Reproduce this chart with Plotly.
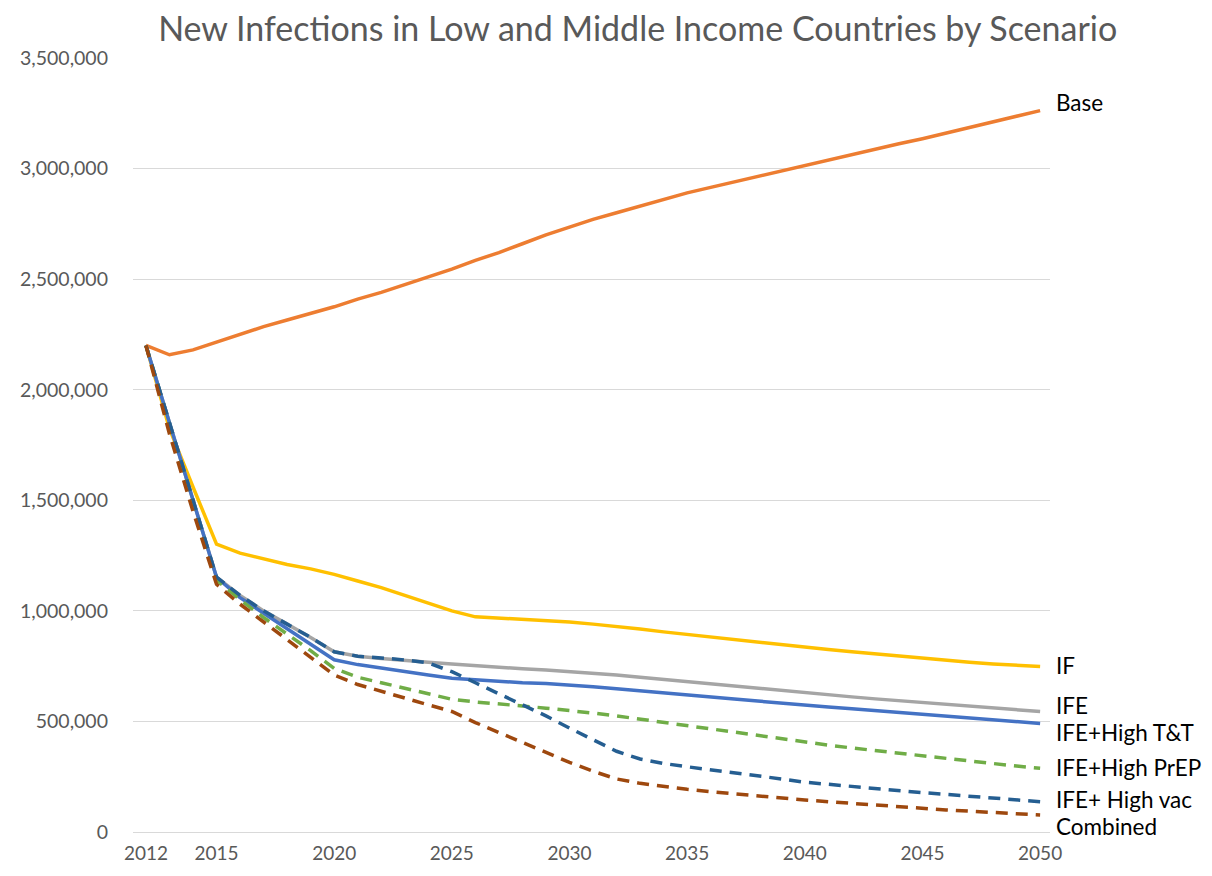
import plotly.graph_objects as go

years = list(range(2012, 2051))

base = [2200000, 2158000, 2180000, 2215000, 2250000, 2285000, 2315000, 2345000, 2375000,
        2410000, 2440000, 2475000, 2510000, 2545000, 2585000, 2620000, 2660000, 2700000,
        2735000, 2770000, 2800000, 2830000, 2860000, 2890000, 2915000, 2940000, 2965000,
        2990000, 3015000, 3040000, 3065000, 3090000, 3112000, 3135000, 3160000, 3185000,
        3210000, 3235000, 3262000]

if_ = [2200000, 1824000, 1560000, 1302000, 1261000, 1235000, 1210000, 1190000, 1165000,
       1135000, 1105000, 1070000, 1035000, 1000000, 973000, 967000, 962000, 958000,
       950000, 940000, 930000, 918000, 905000, 893000, 882000, 870000, 858000, 847000,
       835000, 825000, 815000, 805000, 795000, 785000, 776000, 768000, 760000, 754000, 748000]

ife = [2200000, 1850000, 1500000, 1152000, 1070000, 1000000, 940000, 880000, 815000,
       795000, 785000, 775000, 768000, 760000, 752000, 745000, 738000, 732000, 725000,
       718000, 710000, 700000, 690000, 678000, 668000, 658000, 648000, 638000, 628000,
       620000, 611000, 602000, 594000, 586000, 578000, 570000, 562000, 553000, 545000]

ife_tt = [2200000, 1850000, 1500000, 1152000, 1060000, 990000, 920000, 850000, 779000,
          757000, 740000, 725000, 710000, 695000, 688000, 680000, 675000, 671000, 665000,
          657000, 648000, 638000, 628000, 619000, 610000, 601000, 592000, 582000, 573000,
          565000, 557000, 549000, 541000, 533000, 524000, 516000, 508000, 500000, 491000]

ife_prep = [2200000, 1840000, 1490000, 1140000, 1050000, 970000, 895000, 820000, 740000,
            700000, 675000, 650000, 625000, 600000, 588000, 580000, 570000, 560000, 550000,
            538000, 525000, 510000, 495000, 480000, 465000, 450000, 435000, 420000, 405000,
            393000, 380000, 368000, 355000, 343000, 332000, 320000, 310000, 298000, 288000]

ife_vac = [2200000, 1850000, 1500000, 1152000, 1070000, 1000000, 940000, 880000, 815000,
           795000, 787000, 778000, 765000, 725000, 675000, 625000, 575000, 525000, 470000,
           418000, 365000, 330000, 310000, 295000, 282000, 270000, 255000, 240000, 225000,
           215000, 205000, 196000, 187000, 178000, 170000, 162000, 153000, 145000, 137000]

combined = [2200000, 1800000, 1450000, 1120000, 1030000, 950000, 870000, 790000, 710000,
            667000, 635000, 605000, 575000, 545000, 495000, 450000, 405000, 360000, 315000,
            275000, 240000, 220000, 205000, 193000, 182000, 172000, 162000, 153000, 145000,
            137000, 129000, 121000, 114000, 107000, 100000, 94000, 88000, 82000, 77000]

series_names = ["Base", "IF", "IFE", "IFE+High T&T", "IFE+High PrEP", "IFE+ High vac", "Combined"]
series_values = [base, if_, ife, ife_tt, ife_prep, ife_vac, combined]
series_colors = ["#ED7D31", "#FFC000", "#A5A5A5", "#4472C4", "#70AD47", "#255E91", "#9E480E"]
series_dash = ["solid", "solid", "solid", "solid", "12px,8px", "12px,8px", "12px,8px"]

label_y = [3297000, 752000, 572000, 450000, 293000, 149000, 27000]

x_ticks = [2012, 2015, 2020, 2025, 2030, 2035, 2040, 2045, 2050]
y_ticks = [0, 500000, 1000000, 1500000, 2000000, 2500000, 3000000, 3500000]

fig = go.Figure()
for name, vals, col, dash in zip(series_names, series_values, series_colors, series_dash):
    fig.add_trace(go.Scatter(x=years, y=vals, mode="lines", name=name,
                             line=dict(color=col, width=3.5, dash=dash)))

for name, ly in zip(series_names, label_y):
    fig.add_annotation(x=2050, y=ly, xref="x", yref="y", text=name, showarrow=False,
                       xanchor="left", yanchor="middle", xshift=14,
                       font=dict(family="Lato", size=22.5, color="#000000"))

fig.update_layout(
    width=1204, height=868,
    paper_bgcolor="white", plot_bgcolor="white",
    showlegend=False,
    margin=dict(l=114, r=162, t=50, b=41),
    title=dict(text="New Infections in Low and Middle Income Countries by Scenario",
               x=0.523, xanchor="center", y=0.9758, yanchor="middle",
               font=dict(family="Lato", size=34, color="#595959")),
    xaxis=dict(range=[2011.45, 2050.42], tickvals=x_ticks, showgrid=False, zeroline=False,
               showline=False, ticks="", ticklabelstandoff=8,
               tickfont=dict(family="Lato", size=19, color="#595959")),
    yaxis=dict(range=[0, 3500000], tickvals=y_ticks, tickformat=",d", showgrid=True,
               gridcolor="#D9D9D9", gridwidth=1.3, zeroline=True, zerolinecolor="#D9D9D9",
               zerolinewidth=1.3, showline=False, ticks="", ticklabelstandoff=24,
               tickfont=dict(family="Lato", size=19.5, color="#595959")),
)

fig.write_html("out.html")
